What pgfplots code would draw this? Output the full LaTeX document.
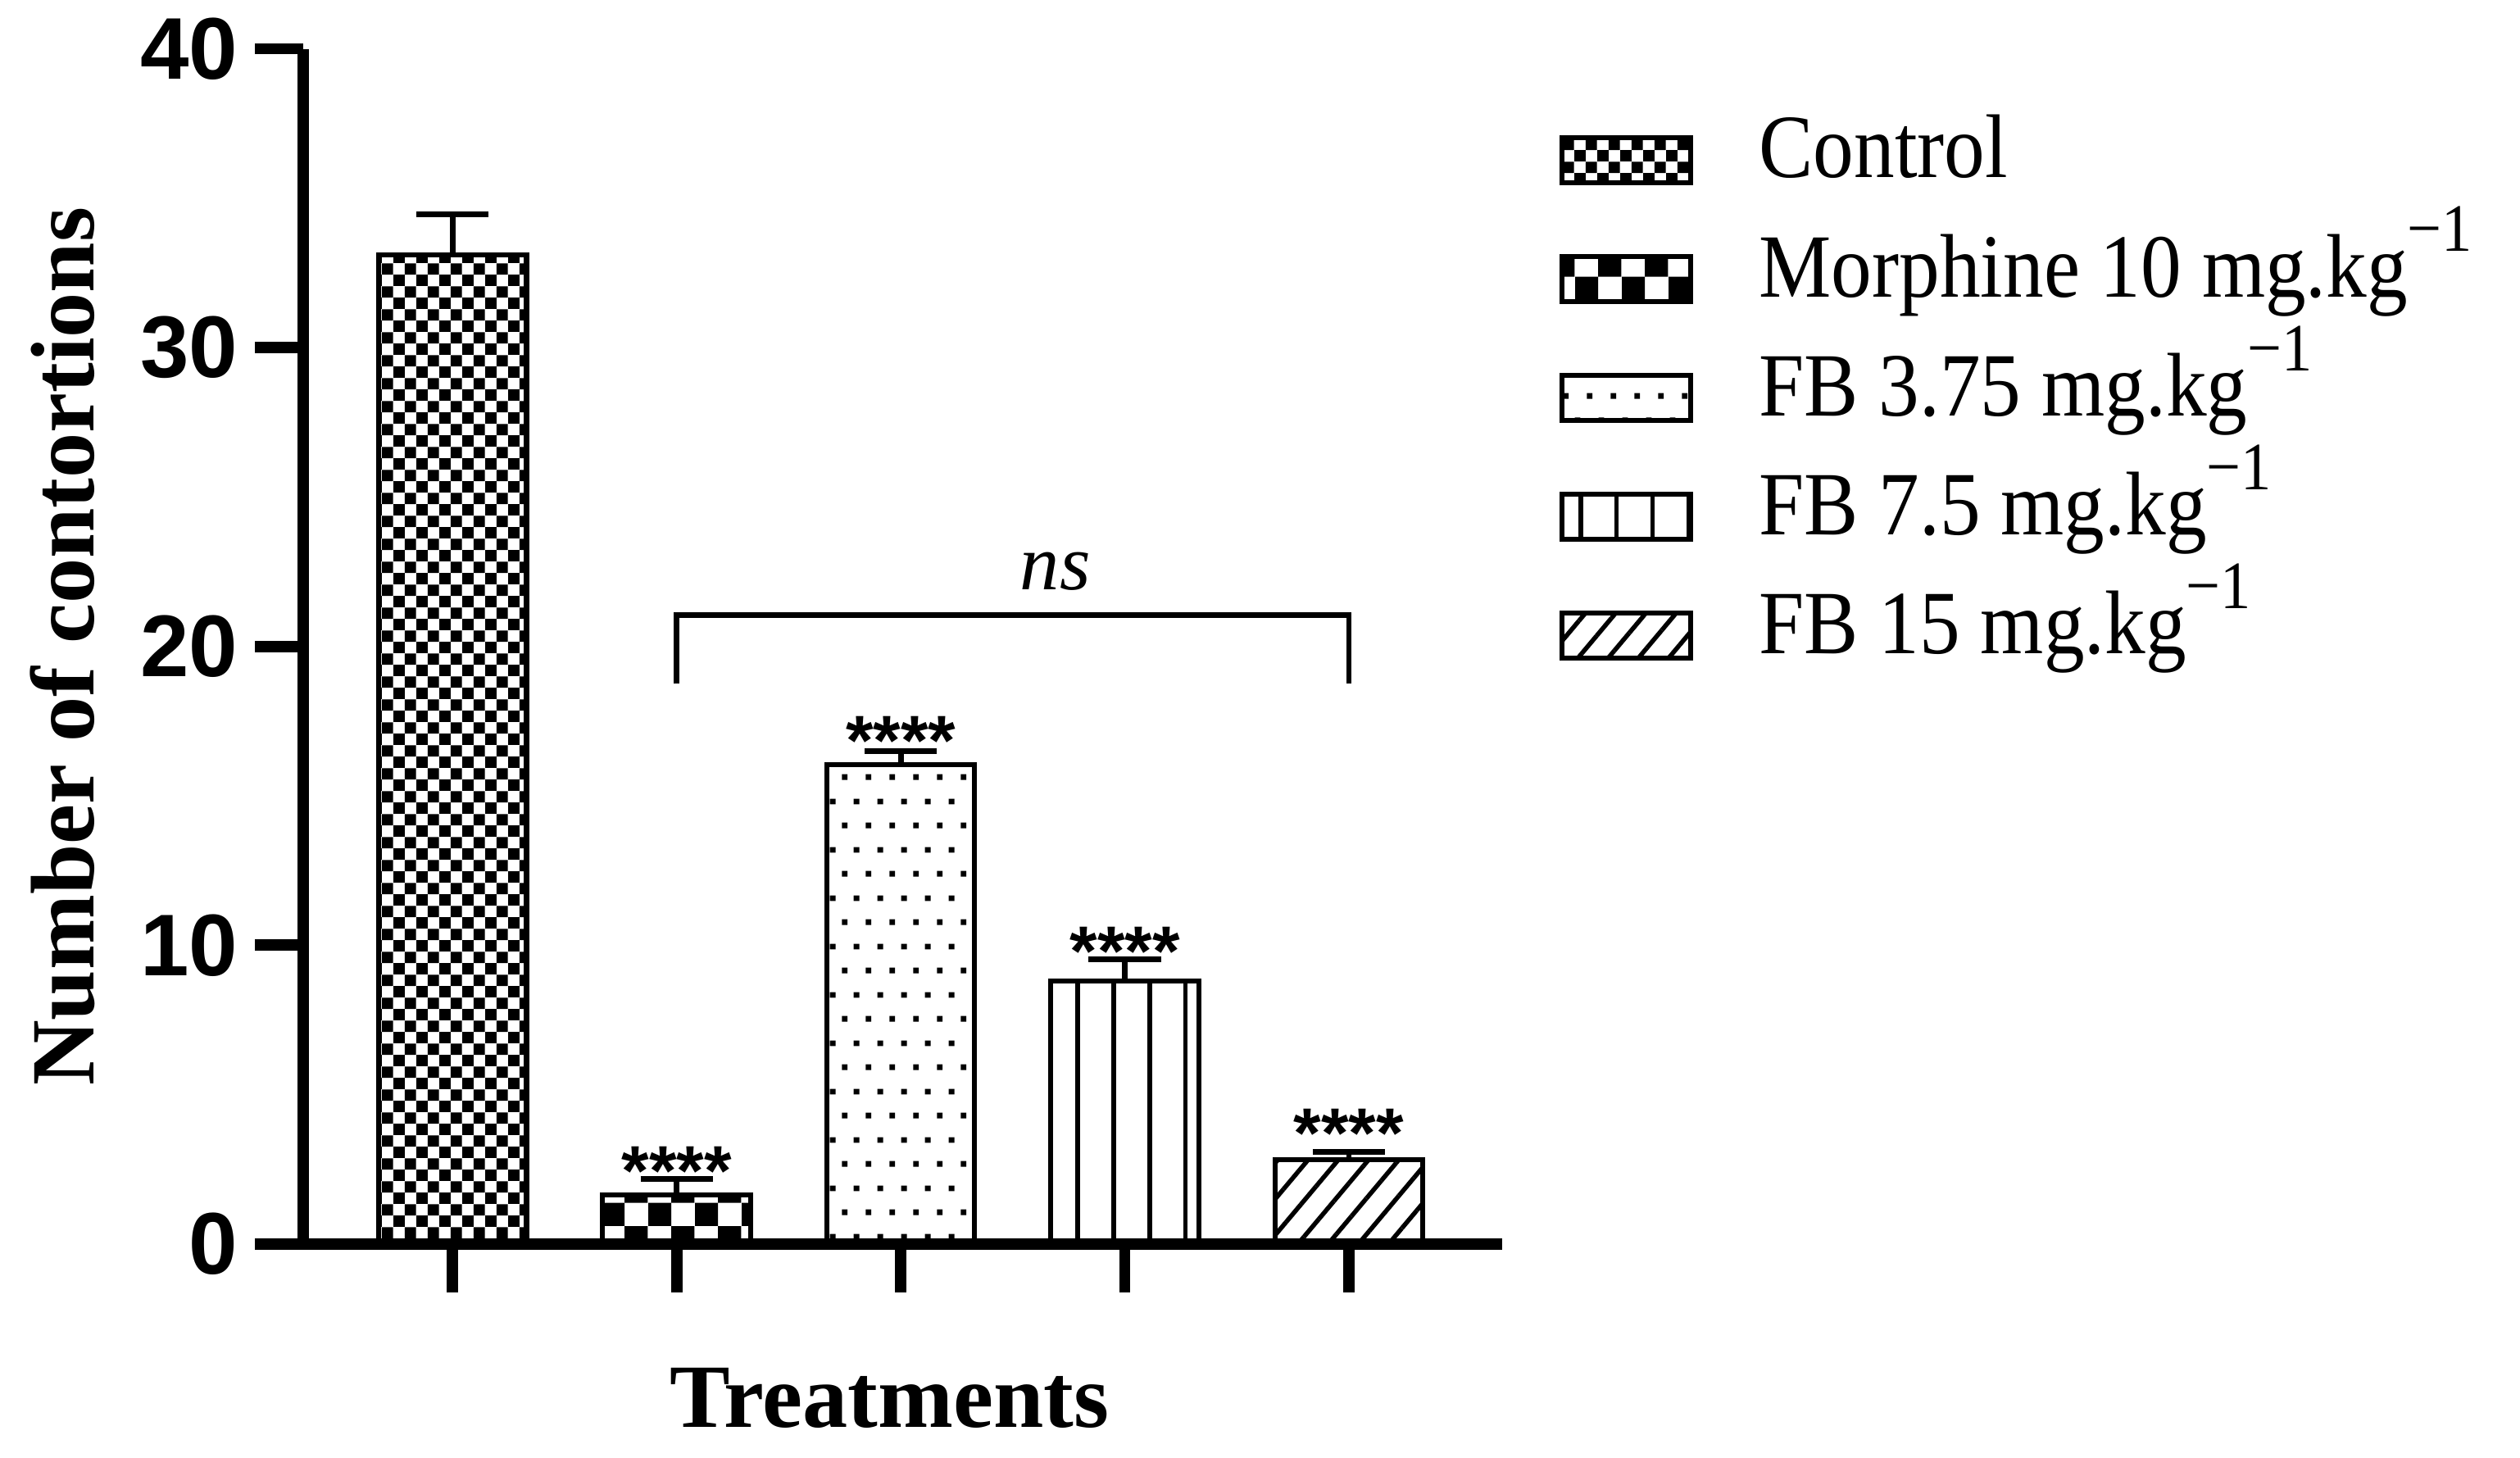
\documentclass[border=0pt]{standalone}
\usepackage{pgfplots}
\pgfplotsset{compat=1.18}
\usetikzlibrary{patterns,patterns.meta}
\usepackage{fontspec}
\setmainfont{Liberation Serif}
\newfontfamily\arialfont{Liberation Sans}

\tikzdeclarepattern{
  name=smallchecker, type=uncolored,
  bounding box={(0,0) and (4.1pt,4.1pt)},
  tile size={(4.1pt,4.1pt)},
  code={\fill (0,0) rectangle (2.05pt,2.05pt); \fill (2.05pt,2.05pt) rectangle (4.1pt,4.1pt);}
}
\tikzdeclarepattern{
  name=bigchecker, type=uncolored,
  bounding box={(0,0) and (8.2pt,8.2pt)},
  tile size={(8.2pt,8.2pt)},
  code={\fill (0,0) rectangle (4.1pt,4.1pt); \fill (4.1pt,4.1pt) rectangle (8.2pt,8.2pt);}
}
\tikzdeclarepattern{
  name=dotgrid, type=uncolored,
  bounding box={(0,0) and (4.25pt,8.5pt)},
  tile size={(4.25pt,8.5pt)},
  code={\fill (0.5pt,0.5pt) rectangle (1.5pt,1.5pt); \fill (2.625pt,4.75pt) rectangle (3.625pt,5.75pt);}
}
\newcommand{\minusone}{\raisebox{0.5em}{\fontsize{12}{12}\selectfont −1}}
\newcommand{\leg}[1]{\scalebox{0.9}[1]{#1}}

\begin{document}
\begin{tikzpicture}
\path[use as bounding box] (-18.87mm,-13.3mm) rectangle (137.93mm,77.4mm);
\begin{axis}[
  scale only axis,
  width=74.6mm, height=74.36mm,
  xmin=-0.666, xmax=4.684, ymin=0, ymax=40,
  axis x line*=bottom, axis y line*=left,
  axis line style={line width=2pt},
  tick style={line width=2pt, black},
  major tick length=3mm,
  tick align=outside,
  xtick={0,1,2,3,4}, xticklabels={,,,,},
  ytick={0,10,20,30,40},
  /pgf/number format/assume math mode=true,
  tick label style={font=\arialfont\bfseries\fontsize{15.5}{16}\selectfont},
  yticklabel style={inner sep=0pt},
  yticklabel shift=1mm,
  ylabel={Number of contortions},
  ylabel style={font=\bfseries\fontsize{16}{18}\selectfont, at={(axis description cs:-0.201,0.5)}, anchor=center},
  xlabel={Treatments},
  xlabel style={font=\bfseries\fontsize{16}{18}\selectfont, at={(axis description cs:0.489,-0.129)}, anchor=center},
  axis on top,
  clip=false,
  ybar, bar width=0.66, bar shift=0pt,
  legend style={at={(axis description cs:1.047,0.9415)}, anchor=north west, draw=none, fill=none,
    inner sep=0pt, row sep=2.4mm, column sep=4.1mm,
    font=\fontsize{16}{18}\selectfont,
    nodes={inner sep=0pt, text height=3.6mm, text depth=1.4mm}},
  legend cell align=left,
  error bars/y dir=plus, error bars/y explicit,
  error bars/error bar style={line width=1pt, solid, black},
  error bars/error mark options={rotate=90, line width=1pt, mark size=6.4pt, black},
]
\addplot[draw=black, line width=0.9pt, pattern=smallchecker,
  legend image code/.code={\draw[line width=0.9pt, pattern=smallchecker] (0mm,-1.4mm) rectangle (8mm,1.4mm);}]
  coordinates {(0,33.1) +- (0,1.35)};
\addlegendentry{\leg{Control}}
\addplot[draw=black, line width=0.9pt, pattern=bigchecker,
  legend image code/.code={\draw[line width=0.9pt, pattern=bigchecker] (0mm,-1.4mm) rectangle (8mm,1.4mm);}]
  coordinates {(1,1.64) +- (0,0.54)};
\addlegendentry{\leg{Morphine 10 mg.kg\minusone}}
\addplot[draw=black, line width=0.9pt, pattern=dotgrid,
  legend image code/.code={\draw[line width=0.9pt, pattern=dotgrid] (0mm,-1.4mm) rectangle (8mm,1.4mm);}]
  coordinates {(2,16.04) +- (0,0.45)};
\addlegendentry{\leg{FB 3.75 mg.kg\minusone}}
\addplot[draw=black, line width=0.9pt, pattern={Lines[angle=90, distance=6.36pt, line width=0.8pt]},
  legend image code/.code={\draw[line width=0.9pt, pattern={Lines[angle=90, distance=6.36pt, line width=0.8pt]}] (0mm,-1.4mm) rectangle (8mm,1.4mm);}]
  coordinates {(3,8.80) +- (0,0.72)};
\addlegendentry{\leg{FB 7.5 mg.kg\minusone}}
\addplot[draw=black, line width=0.9pt, pattern={Lines[angle=50, distance=4.1pt, line width=0.8pt]},
  legend image code/.code={\draw[line width=0.9pt, pattern={Lines[angle=50, distance=4.1pt, line width=0.8pt]}] (0mm,-1.4mm) rectangle (8mm,1.4mm);}]
  coordinates {(4,2.82) +- (0,0.27)};
\addlegendentry{\leg{FB 15 mg.kg\minusone}}

\node[font=\arialfont\bfseries\fontsize{12.5}{14}\selectfont, anchor=base] at (axis cs:1,1.64) {****};
\node[font=\arialfont\bfseries\fontsize{12.5}{14}\selectfont, anchor=base] at (axis cs:2,16.03) {****};
\node[font=\arialfont\bfseries\fontsize{12.5}{14}\selectfont, anchor=base] at (axis cs:3,8.98) {****};
\node[font=\arialfont\bfseries\fontsize{12.5}{14}\selectfont, anchor=base] at (axis cs:4,2.90) {****};
\draw[line width=1pt] (axis cs:1,18.75) -- (axis cs:1,21.05) -- (axis cs:4,21.05) -- (axis cs:4,18.75);
\node[font=\itshape\fontsize{14}{16}\selectfont, anchor=base] at (axis cs:2.69,21.9) {ns};
\end{axis}
\end{tikzpicture}
\end{document}
